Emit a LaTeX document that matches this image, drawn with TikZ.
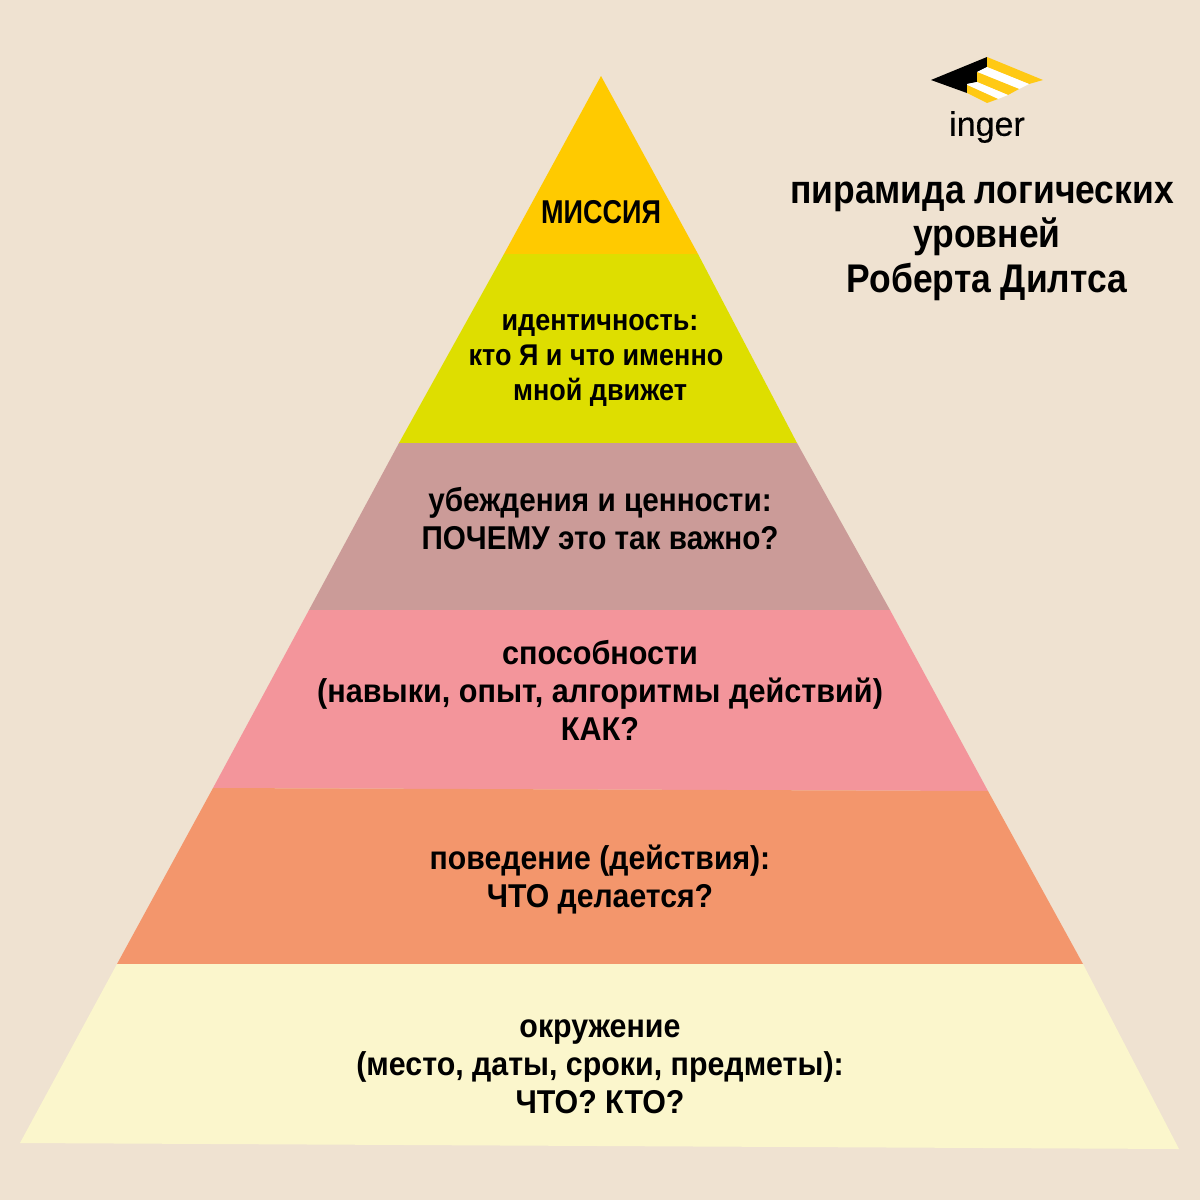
\documentclass[tikz,border=0pt]{standalone}
\usepackage{fontspec}
\setmainfont{Liberation Sans}
\newfontfamily\condM[FakeStretch=0.82]{Liberation Sans Bold}
\newfontfamily\condI[FakeStretch=0.90]{Liberation Sans Bold}
\newfontfamily\condT[FakeStretch=0.90]{Liberation Sans Bold}
\newfontfamily\condD[FakeStretch=0.927]{Liberation Sans Bold}
\newfontfamily\condC[FakeStretch=0.915]{Liberation Sans Bold}
\newfontfamily\condF[FakeStretch=0.92]{Liberation Sans Bold}
\newfontfamily\condH[FakeStretch=0.886]{Liberation Sans Bold}
\newfontfamily\brandf[FakeBold=0.35]{Liberation Sans}
\definecolor{bgc}{HTML}{EFE2D1}
\definecolor{la}{HTML}{FFCA00}
\definecolor{lb}{HTML}{DEDE00}
\definecolor{lc}{HTML}{CB9B98}
\definecolor{ld}{HTML}{F3959B}
\definecolor{le}{HTML}{F3966C}
\definecolor{lf}{HTML}{FBF6CC}
\definecolor{logoy}{HTML}{FFC914}
\tikzset{
 lbl/.style={align=center,text=black,inner sep=0pt},
 lblA/.style={lbl,font=\fontsize{33}{38}\condM},
 lblB/.style={lbl,font=\fontsize{30}{35}\condI},
 lblC/.style={lbl,font=\fontsize{33}{38}\condT},
 lblD/.style={lbl,font=\fontsize{33}{38}\condD},
 lblG/.style={lbl,font=\fontsize{33}{38}\condC},
 lblE/.style={lbl,font=\fontsize{33}{38}\condF},
 ttl/.style={lbl,font=\fontsize{40}{44.5}\condH},
 brandtxt/.style={lbl,font=\fontsize{34}{38}\brandf}
}
\begin{document}
\begin{tikzpicture}[x=1pt,y=-1pt]
\useasboundingbox (0,0) rectangle (1200,1200);
\fill[bgc] (0,0) rectangle (1200,1200);
\fill[la] (601,76) -- (698,254) -- (504,254) -- cycle;
\fill[lb] (504,254) -- (698,254) -- (797,443) -- (399,443) -- cycle;
\fill[lc] (399,443) -- (797,443) -- (890,610) -- (309,610) -- cycle;
\fill[ld] (309,610) -- (890,610) -- (988,791) -- (213,788) -- cycle;
\fill[le] (213,788) -- (988,791) -- (1083,964) -- (117,964) -- cycle;
\fill[lf] (117,964) -- (1083,964) -- (1179,1149) -- (20,1143) -- cycle;
\node[lblA] (t1) at (601,212) {МИССИЯ};
\node[lblB] (t2) at (596,360) {\hspace*{8pt}идентичность:\\кто Я и что именно\\\hspace*{8pt}мной движет};
\node[lblC] (t3) at (600,519) {убеждения и ценности:\\ПОЧЕМУ это так важно?};
\node[lblD] (t4) at (600,690) {способности\\(навыки, опыт, алгоритмы действий)\\КАК?};
\node[lblG] (t5) at (600,879) {поведение (действия):\\ЧТО делается?};
\node[lblE] (t6) at (600,1067) {окружение\\(место, даты, сроки, предметы):\\ЧТО? КТО?};
\node[ttl] (title) at (982,241) {пирамида логических\\\hspace*{10pt}уровней\\\hspace*{10pt}Роберта Дилтса};
% logo
\fill[black] (931,80) -- (987,57) -- (987,67) -- (977,72) -- (977,82) -- (967,84) -- (967,93) -- cycle;
\fill[logoy] (987,57) -- (1043,80) -- (1029,84) -- (987,67) -- cycle;
\fill[white] (987,67) -- (1029,84) -- (1019,89) -- (977,72) -- cycle;
\fill[logoy] (977,72) -- (1019,89) -- (1008,95) -- (977,82) -- cycle;
\fill[white] (977,82) -- (1008,95) -- (998,99) -- (967,85) -- (967,84) -- cycle;
\fill[logoy] (967,85) -- (998,99) -- (987,103) -- (967,93) -- cycle;
\node[brandtxt] (brand) at (987,127) {inger};
\end{tikzpicture}
\end{document}
